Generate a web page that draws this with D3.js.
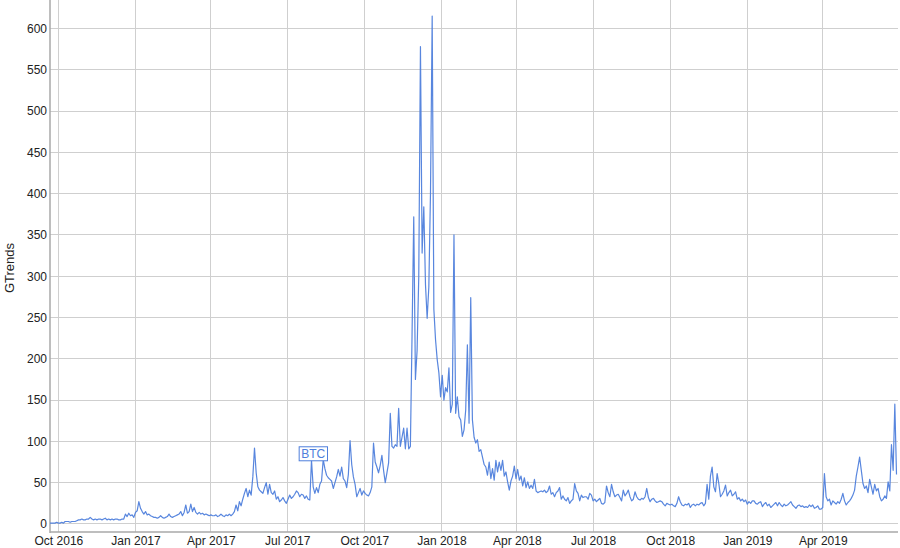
<!DOCTYPE html>
<html><head><meta charset="utf-8">
<script src="https://cdn.jsdelivr.net/npm/d3@7"></script>
<style>body{margin:0;background:#fff}svg{display:block}</style>
</head><body><svg id="c" width="900" height="548"></svg>
<script>
// ---- data (2-day samples starting at startDate) ----
const startDate = "2016-09-21";
const stepDays = 2;
const values2016 = [1,1,1,1,2,1,1,2,1,3, 3,3,2,3,3,3,4,5,5,6, 5,5,6,6,8,6,5,6,5,6, 6,5,6,7,5,6,5,6,5,6, 6,5,5,6,6,12,9,13,10,11, 8];
const values2017 = [14,16,27,19,15,12,15,11,12,
 10,9,8,8,7,8,10,8,7,8, 9,12,9,8,9,10,11,12,15,10, 14,23,13,15,24,15,20,14,12,14,
 12,13,11,12,11,10,11,10,10,11, 9,10,12,10,9,11,10,12,10,12, 15,23,16,27,22,30,37,43,33,41,
 35,57,92,62,45,41,39,37,44,50, 36,48,38,36,40,30,33,27,29,32, 28,25,30,35,31,33,36,40,38,33,
 36,35,31,34,30,29,77,45,37,44, 38,48,52,78,67,59,56,54,52,43, 50,57,66,58,69,55,52,44,60,101,
 72,57,48,33,38,43,35,40,37,35, 34,38,45,98,75,69,62,71,83,65, 50,62,74,134,94,92,96,94,140,94,
 105,116,91,116,91,94,230,372,175,210, 300,578,328,384,290,249,287,402,615,260, 223,199,183,154];
const values2018 = [180,150,165,160,189,135,
 145,350,134,154,130,126,106,114,138,217, 122,274,126,105,98,102,88,90,81,72, 69,59,75,55,67,53,77,63,75,65,
 77,58,63,51,41,52,58,70,55,66, 53,58,46,56,44,51,43,47,43,54, 40,38,39,40,39,41,38,40,46,36,
 38,33,38,40,44,30,34,30,28,32, 25,28,30,49,40,37,28,35,32,33, 33,30,37,35,28,30,27,29,31,25,
 24,26,46,38,33,48,39,33,35,36, 32,28,41,34,37,41,33,28,30,39, 33,30,29,31,30,33,43,32,27,30,
 31,28,26,27,28,27,24,22,25,24, 23,24,22,21,25,33,27,23,22,24, 23,25,20,23,24,22,24,23,25,26,
 22,25,48,30,58,69,45,39,61,49, 33,36,40,47,34,38,41,34,36,39, 30,32,28,30,27,29];
const values2019 = [24,27,25,28,
 28,25,24,26,27,21,24,26,22,24, 20,22,24,26,22,26,23,21,24,22, 23,25,27,23,21,19,22,23,21,22,
 20,21,20,23,21,23,19,20,22,18, 18,20,61,33,28,30,23,28,26,24, 27,25,30,37,28,23,26,28,31,35,
 41,58,69,81,65,49,43,46,38,54, 45,36,48,40,43,33,28,30,34,31, 51,40,96,65,145,60];

const yTicks = [0,50,100,150,200,250,300,350,400,450,500,550,600];
const xTickDates = ["2016-10-01","2017-01-01","2017-04-01","2017-07-01","2017-10-01","2018-01-01","2018-04-01","2018-07-01","2018-10-01","2019-01-01","2019-04-01"];
const xTickLabels = ["Oct 2016","Jan 2017","Apr 2017","Jul 2017","Oct 2017","Jan 2018","Apr 2018","Jul 2018","Oct 2018","Jan 2019","Apr 2019"];
const seriesName = "BTC";
const yTitle = "GTrends";
const seriesLabelDate = "2017-08-01";
const seriesLabelValue = 85;

// ---- build ----
const parse = d3.utcParse("%Y-%m-%d");
const t0 = parse(startDate);
const values = [].concat(values2016, values2017, values2018, values2019);
const data = values.map((v, i) => ({date: d3.utcDay.offset(t0, i * stepDays), value: v}));

const L = 50, R = 898, T = 0, B = 532;
const x = d3.scaleUtc().domain([t0, data[data.length - 1].date]).range([L, 896.5]);
const y = d3.scaleLinear().domain([-9.7, 634.4]).range([B, T]);

const svg = d3.select("#c");
const font = "'Liberation Sans', Arial, sans-serif";

// gridlines
svg.append("g").selectAll("line").data(yTicks).join("line")
  .attr("x1", L).attr("x2", R).attr("y1", d => y(d)).attr("y2", d => y(d))
  .attr("stroke", "#cfcfcf").attr("stroke-width", 1).attr("shape-rendering", "crispEdges");
svg.append("g").selectAll("line").data(xTickDates).join("line")
  .attr("x1", d => x(parse(d))).attr("x2", d => x(parse(d))).attr("y1", T).attr("y2", B)
  .attr("stroke", "#cfcfcf").attr("stroke-width", 1).attr("shape-rendering", "crispEdges");

// axes
const yAxis = d3.axisLeft(y).tickValues(yTicks).tickSize(0).tickPadding(3);
const gy = svg.append("g").attr("transform", `translate(${L},0)`).call(yAxis);
gy.select(".domain").remove();
gy.selectAll("text").attr("font-family", font).attr("font-size", 12).attr("fill", "#222");

const xAxis = d3.axisBottom(x).tickValues(xTickDates.map(parse))
  .tickFormat((d, i) => xTickLabels[i]).tickSize(0).tickPadding(4);
const gx = svg.append("g").attr("transform", `translate(0,${B})`).call(xAxis);
gx.select(".domain").remove();
gx.selectAll("text").attr("font-family", font).attr("font-size", 12).attr("fill", "#222");

svg.append("line").attr("x1", L).attr("x2", L).attr("y1", T).attr("y2", B + 1)
  .attr("stroke", "#a8a8a8").attr("stroke-width", 1.5);
svg.append("line").attr("x1", L).attr("x2", R).attr("y1", B).attr("y2", B)
  .attr("stroke", "#a8a8a8").attr("stroke-width", 1.5);

// series line
const line = d3.line().x(d => x(d.date)).y(d => y(d.value));
svg.append("path").datum(data).attr("d", line)
  .attr("fill", "none").attr("stroke", "#4f7fdc").attr("stroke-width", 1.2)
  .attr("stroke-linejoin", "round").attr("stroke-opacity", 0.95);

// y title
svg.append("text").attr("transform", `translate(14,${(T + B) / 2 + 2}) rotate(-90)`)
  .attr("text-anchor", "middle").attr("font-family", font).attr("font-size", 13)
  .attr("fill", "#222").text(yTitle);

// series label box
const lx = x(parse(seriesLabelDate)), ly = y(seriesLabelValue);
const lg = svg.append("g").attr("transform", `translate(${lx},${ly})`);
const lt = lg.append("text").attr("text-anchor", "middle").attr("dy", "0.36em")
  .attr("font-family", font).attr("font-size", 12).attr("fill", "#4f7fdc").text(seriesName);
const bb = lt.node().getBBox();
lg.insert("rect", "text").attr("x", bb.x - 2).attr("y", -7).attr("width", bb.width + 4).attr("height", 14)
  .attr("fill", "#fff").attr("stroke", "#4f7fdc").attr("stroke-width", 1);
</script></body></html>
